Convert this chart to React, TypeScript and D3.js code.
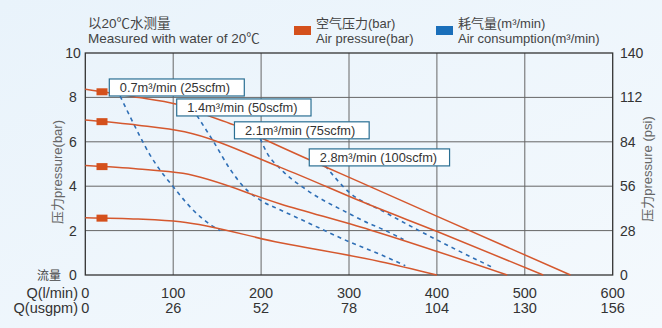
import React from "react";
import * as d3 from "d3";

// ---- data ----
const qTicks = [0, 100, 200, 300, 400, 500, 600];
const usgpmTicks = [0, 26, 52, 78, 104, 130, 156];
const barTicks = [0, 2, 4, 6, 8, 10];
const psiTicks = [0, 28, 56, 84, 112, 140];

// air pressure curves (Q l/min, bar)
const p1Q = [0, 55, 104, 138, 169, 201, 324, 401, 552];
const p1P = [8.37, 8.03, 7.69, 7.2, 6.76, 6.16, 3.98, 2.63, 0];
const p2Q = [0, 60, 113, 222, 324, 401, 521];
const p2P = [6.98, 6.75, 6.45, 4.85, 3.15, 1.95, 0];
const p3Q = [0, 60, 111, 222, 324, 480];
const p3P = [4.93, 4.78, 4.58, 3.2, 2.03, 0];
const p4Q = [0, 60, 108, 222, 336, 400];
const p4P = [2.58, 2.52, 2.4, 1.45, 0.6, 0];
const markerQ = 19;

// air consumption curves
const c07Q = [39.6, 51, 62.4, 73.7, 85, 100, 115.5, 130.6, 145.8, 153.4];
const c07P = [8.06, 7.13, 6.23, 5.4, 4.73, 3.98, 3.23, 2.63, 2.18, 2.0];
const c14Q = [127, 146, 165, 180, 200, 222, 252, 300, 336, 364];
const c14P = [7.18, 6.0, 4.75, 3.98, 3.35, 2.93, 2.38, 1.5, 0.92, 0.42];
const c21Q = [199, 207, 222, 252, 301, 324, 336, 362];
const c21P = [6.14, 5.48, 4.78, 3.83, 2.75, 2.3, 2.1, 1.6];
const c28Q = [273, 301.5, 336, 400, 463];
const c28P = [4.92, 3.68, 2.93, 1.58, 0.35];

const consLabels = ["0.7m³/min (25scfm)", "1.4m³/min (50scfm)", "2.1m³/min (75scfm)", "2.8m³/min (100scfm)"];
const labelQ = [27.3, 104, 169.7, 254.8];
const labelTopP = [8.83, 7.93, 6.9, 5.68];

const FONT = "'Liberation Sans', Arial, 'Noto Sans CJK SC', sans-serif";
const RED = "#d5582e";
const BLUE = "#2f6fb6";

export default function App() {
  const W = 662, H = 328;
  const x = d3.scaleLinear().domain([0, 600]).range([85.3, 612.7]);
  const y = d3.scaleLinear().domain([0, 10]).range([275, 53]);
  const yPsi = d3.scaleLinear().domain([0, 140]).range([275, 53]);

  const line = d3
    .line<[number, number]>()
    .x((d) => x(d[0]))
    .y((d) => y(d[1]))
    .curve(d3.curveMonotoneX);

  const zip = (a: number[], b: number[]) => a.map((v, i) => [v, b[i]] as [number, number]);
  const pressure = [zip(p1Q, p1P), zip(p2Q, p2P), zip(p3Q, p3P), zip(p4Q, p4P)];
  const cons = [zip(c07Q, c07P), zip(c14Q, c14P), zip(c21Q, c21P), zip(c28Q, c28P)];
  const labelW = [135, 134.3, 134.7, 140.3];

  const markerY = (pts: [number, number][]) => {
    const q = pts.map((d) => d[0]);
    const p = pts.map((d) => d[1]);
    return y(d3.scaleLinear().domain(q).range(p)(markerQ));
  };

  return (
    <svg
      width={W}
      height={H}
      style={{ position: "absolute", left: 0, top: 0, fontFamily: FONT }}
    >
      <defs>
        <linearGradient id="bg" x1="0" y1="0" x2="1" y2="1">
          <stop offset="0" stopColor="#e9f3fb" />
          <stop offset="1" stopColor="#f4f9fd" />
        </linearGradient>
      </defs>
      <rect x={0} y={0} width={W} height={H} fill="url(#bg)" />

      {/* header */}
      <text x={88} y={28} fontSize={13.5} fill="#444">以20℃水测量</text>
      <text x={88} y={43} fontSize={13.5} fill="#444">Measured with water of 20℃</text>

      {/* legend */}
      <rect x={294} y={26} width={17} height={9} fill="#d4501c" />
      <text x={316} y={28} fontSize={13} fill="#444">空气压力(bar)</text>
      <text x={316} y={43} fontSize={13} fill="#444">Air pressure(bar)</text>
      <rect x={436} y={26} width={17} height={9} fill="#1a6fba" />
      <text x={458} y={28} fontSize={13} fill="#444">耗气量(m³/min)</text>
      <text x={458} y={43} fontSize={13} fill="#444">Air consumption(m³/min)</text>

      {/* grid */}
      {barTicks.slice(1, -1).map((t) => (
        <line key={"h" + t} x1={x(0)} x2={x(600)} y1={y(t)} y2={y(t)} stroke="#666" strokeWidth={1} />
      ))}
      {qTicks.slice(1, -1).map((t) => (
        <line key={"v" + t} x1={x(t)} x2={x(t)} y1={y(0)} y2={y(10)} stroke="#666" strokeWidth={1} />
      ))}
      <rect x={x(0)} y={y(10)} width={x(600) - x(0)} height={y(0) - y(10)} fill="none" stroke="#333" strokeWidth={1.3} />

      {/* left axis */}
      {barTicks.map((t) => (
        <text key={"lb" + t} x={73} y={y(t) + 5} fontSize={14} fill="#333" textAnchor="middle">{t}</text>
      ))}
      <text x={61} y={y(0) + 4.5} fontSize={12} fill="#444" textAnchor="end">流量</text>
      <text
        transform={`translate(62,${(y(2) + y(8)) / 2 + 8}) rotate(-90)`}
        fontSize={13}
        fill="#666"
        textAnchor="middle"
      >
        压力pressure(bar)
      </text>

      {/* right axis */}
      {psiTicks.map((t) => (
        <text key={"rb" + t} x={620} y={yPsi(t) + 5} fontSize={14} fill="#333">{t}</text>
      ))}
      <text
        transform={`translate(652,${(y(2) + y(8)) / 2 + 5}) rotate(-90)`}
        fontSize={13}
        fill="#666"
        textAnchor="middle"
      >
        压力pressure (psi)
      </text>

      {/* bottom axes */}
      <text x={78} y={298} fontSize={14.5} fill="#333" textAnchor="end">Q(l/min)</text>
      <text x={78} y={313} fontSize={14.5} fill="#333" textAnchor="end">Q(usgpm)</text>
      {qTicks.map((t, i) => (
        <g key={"bt" + t}>
          <text x={x(t)} y={298} fontSize={14.5} fill="#333" textAnchor="middle">{t}</text>
          <text x={x(t)} y={313} fontSize={14.5} fill="#333" textAnchor="middle">{usgpmTicks[i]}</text>
        </g>
      ))}

      {/* consumption dashed curves */}
      {cons.map((pts, i) => (
        <path key={"c" + i} d={line(pts) || ""} fill="none" stroke={BLUE} strokeWidth={1.6} strokeDasharray="4,4" />
      ))}

      {/* pressure curves */}
      {pressure.map((pts, i) => (
        <path key={"p" + i} d={line(pts) || ""} fill="none" stroke={RED} strokeWidth={1.5} />
      ))}
      {pressure.map((pts, i) => (
        <rect key={"m" + i} x={x(markerQ) - 5.5} y={markerY(pts) - 3.5} width={11} height={7} fill="#d4501c" />
      ))}

      {/* consumption labels */}
      {consLabels.map((s, i) => (
        <g key={"l" + i}>
          <rect x={x(labelQ[i])} y={y(labelTopP[i])} width={labelW[i]} height={17} fill="#fff" stroke="#2a6f93" strokeWidth={1.2} />
          <text x={x(labelQ[i]) + 10.5} y={y(labelTopP[i]) + 13} fontSize={12.8} fill="#333">{s}</text>
        </g>
      ))}
    </svg>
  );
}
